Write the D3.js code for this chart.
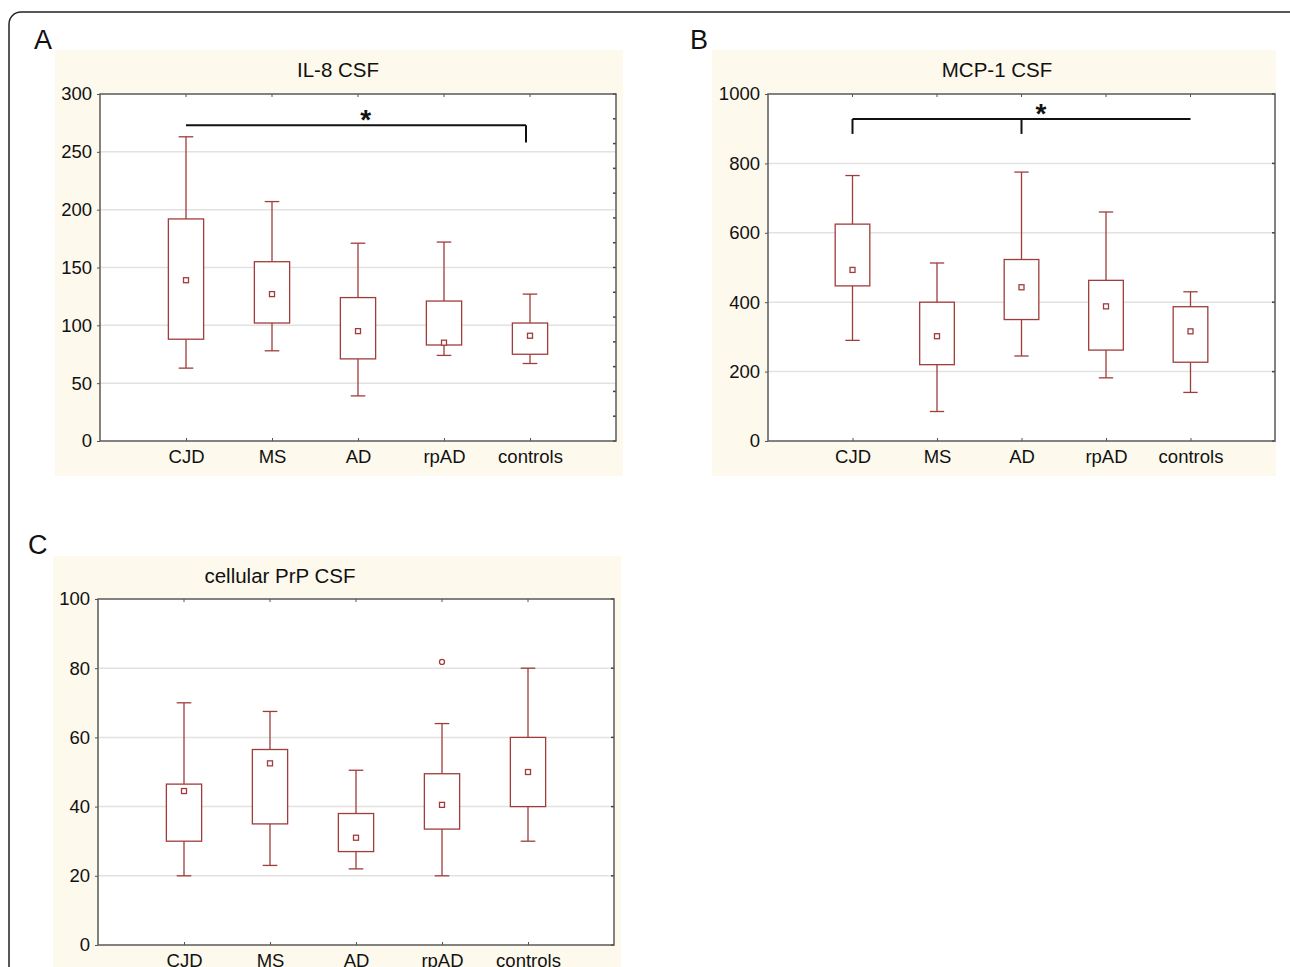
<!DOCTYPE html>
<html>
<head>
<meta charset="utf-8">
<script src="https://cdn.jsdelivr.net/npm/d3@7"></script>
<style>
  body { margin: 0; background: #fff; }
  svg { display: block; font-family: "Liberation Sans", Arial, sans-serif; }
</style>
</head>
<body>
<script>
// groups on the x axis (same for all three panels)
var groups = ["CJD", "MS", "AD", "rpAD", "controls"];

// A: IL-8 CSF
var il8Max  = [263, 207, 171, 172, 127];
var il8Q3   = [192, 155, 124, 121, 102];
var il8Mean = [139, 127, 95, 85, 91];
var il8Q1   = [88, 102, 71, 83, 75];
var il8Min  = [63, 78, 39, 74, 67];
var il8Ticks = [0, 50, 100, 150, 200, 250, 300];

// B: MCP-1 CSF
var mcpMax  = [765, 513, 775, 660, 430];
var mcpQ3   = [625, 400, 523, 463, 387];
var mcpMean = [493, 302, 443, 388, 316];
var mcpQ1   = [447, 220, 350, 262, 227];
var mcpMin  = [290, 85, 245, 182, 140];
var mcpTicks = [0, 200, 400, 600, 800, 1000];

// C: cellular PrP CSF
var prpMax  = [70, 67.5, 50.5, 64, 80];
var prpQ3   = [46.5, 56.5, 38, 49.5, 60];
var prpMean = [44.5, 52.5, 31, 40.5, 50];
var prpQ1   = [30, 35, 27, 33.5, 40];
var prpMin  = [20, 23, 22, 20, 30];
var prpOutlier = [null, null, null, 81.8, null];
var prpTicks = [0, 20, 40, 60, 80, 100];

var boxColor = "#a03c3c";

var svg = d3.select("body").append("svg")
    .attr("width", 1290)
    .attr("height", 967);

// outer rounded frame
svg.append("rect")
    .attr("x", 9).attr("y", 12)
    .attr("width", 1300).attr("height", 1000)
    .attr("rx", 12)
    .attr("fill", "none")
    .attr("stroke", "#222")
    .attr("stroke-width", 1.5);

function drawPanel(p) {
    var g = svg.append("g");

    // beige panel background
    g.append("rect")
        .attr("x", p.bg[0]).attr("y", p.bg[1])
        .attr("width", p.bg[2]).attr("height", p.bg[3])
        .attr("fill", "#fdf9ec");

    var px = p.plot[0], py = p.plot[1], pw = p.plot[2], ph = p.plot[3];

    g.append("rect")
        .attr("x", px).attr("y", py)
        .attr("width", pw).attr("height", ph)
        .attr("fill", "#fff");

    var x = d3.scalePoint().domain(groups).range([px, px + pw]).padding(1);
    var step = x.step();
    var y = d3.scaleLinear().domain(p.domain).range([py + ph, py]);

    // grid lines
    g.selectAll(".grid").data(p.ticks.slice(1, -1)).enter().append("line")
        .attr("x1", px).attr("x2", px + pw)
        .attr("y1", function(d) { return y(d); })
        .attr("y2", function(d) { return y(d); })
        .attr("stroke", "#e2e2e2")
        .attr("stroke-width", 1.5);

    // left axis labels
    var yAxis = d3.axisLeft(y).tickValues(p.ticks).tickFormat(d3.format("d"))
        .tickSize(3).tickPadding(5);
    var ya = g.append("g").attr("transform", "translate(" + px + ",0)").call(yAxis);
    ya.select(".domain").remove();
    ya.selectAll("line").attr("stroke", "#555");
    ya.selectAll("text").attr("font-size", 18.5).attr("fill", "#111");

    // bottom axis labels
    var xAxis = d3.axisBottom(x).tickSize(-3).tickPadding(9);
    var xa = g.append("g").attr("transform", "translate(0," + (py + ph) + ")").call(xAxis);
    xa.select(".domain").remove();
    xa.selectAll("line").attr("stroke", "#555");
    xa.selectAll("text").attr("font-size", 18.5).attr("fill", "#111");

    // top ticks
    g.selectAll(".ttick").data(groups).enter().append("line")
        .attr("x1", function(d) { return x(d); })
        .attr("x2", function(d) { return x(d); })
        .attr("y1", py).attr("y2", py + 3)
        .attr("stroke", "#555");

    // right ticks
    g.selectAll(".rtick").data(p.rightTicks).enter().append("line")
        .attr("x1", px + pw - 3).attr("x2", px + pw)
        .attr("y1", function(d) { return y(d); })
        .attr("y2", function(d) { return y(d); })
        .attr("stroke", "#444")
        .attr("stroke-width", 1.5);

    // frame
    g.append("rect")
        .attr("x", px).attr("y", py)
        .attr("width", pw).attr("height", ph)
        .attr("fill", "none")
        .attr("stroke", "#5a5a5a")
        .attr("stroke-width", 1.5);

    var bw = step * 0.41, cw = step * 0.17;
    var boxes = g.selectAll(".box").data(groups).enter().append("g");

    // whiskers
    boxes.append("line")
        .attr("x1", function(d) { return x(d); })
        .attr("x2", function(d) { return x(d); })
        .attr("y1", function(d, i) { return y(p.max[i]); })
        .attr("y2", function(d, i) { return y(p.q3[i]); })
        .attr("stroke", boxColor).attr("stroke-width", 1.3);
    boxes.append("line")
        .attr("x1", function(d) { return x(d); })
        .attr("x2", function(d) { return x(d); })
        .attr("y1", function(d, i) { return y(p.q1[i]); })
        .attr("y2", function(d, i) { return y(p.min[i]); })
        .attr("stroke", boxColor).attr("stroke-width", 1.3);
    // caps
    boxes.append("line")
        .attr("x1", function(d) { return x(d) - cw / 2; })
        .attr("x2", function(d) { return x(d) + cw / 2; })
        .attr("y1", function(d, i) { return y(p.max[i]); })
        .attr("y2", function(d, i) { return y(p.max[i]); })
        .attr("stroke", boxColor).attr("stroke-width", 1.3);
    boxes.append("line")
        .attr("x1", function(d) { return x(d) - cw / 2; })
        .attr("x2", function(d) { return x(d) + cw / 2; })
        .attr("y1", function(d, i) { return y(p.min[i]); })
        .attr("y2", function(d, i) { return y(p.min[i]); })
        .attr("stroke", boxColor).attr("stroke-width", 1.3);
    // box
    boxes.append("rect")
        .attr("x", function(d) { return x(d) - bw / 2; })
        .attr("y", function(d, i) { return y(p.q3[i]); })
        .attr("width", bw)
        .attr("height", function(d, i) { return y(p.q1[i]) - y(p.q3[i]); })
        .attr("fill", "#fff")
        .attr("stroke", boxColor).attr("stroke-width", 1.3);
    // mean marker
    boxes.append("rect")
        .attr("x", function(d) { return x(d) - 2.5; })
        .attr("y", function(d, i) { return y(p.mean[i]) - 2.5; })
        .attr("width", 5).attr("height", 5)
        .attr("fill", "#fff")
        .attr("stroke", boxColor).attr("stroke-width", 1.3);

    // outliers
    if (p.outlier) {
        g.selectAll(".out").data(groups.filter(function(d, i) { return p.outlier[i] != null; }))
            .enter().append("circle")
            .attr("cx", function(d) { return x(d); })
            .attr("cy", function(d) { return y(p.outlier[groups.indexOf(d)]); })
            .attr("r", 2.5)
            .attr("fill", "#fff")
            .attr("stroke", boxColor).attr("stroke-width", 1.3);
    }

    // significance bracket
    if (p.bracket) {
        var b = p.bracket;
        g.append("line")
            .attr("x1", x(b.from)).attr("x2", x(b.to) + b.endShift)
            .attr("y1", y(b.y)).attr("y2", y(b.y))
            .attr("stroke", "#111").attr("stroke-width", 2);
        b.drops.forEach(function(dname) {
            var dx = x(dname) + (dname === b.to ? b.endShift : 0);
            g.append("line")
                .attr("x1", dx).attr("x2", dx)
                .attr("y1", y(b.y)).attr("y2", y(b.dropTo))
                .attr("stroke", "#111").attr("stroke-width", 2);
        });
        g.append("text")
            .attr("x", x(groups[0]) + b.starAt * step)
            .attr("y", y(b.y) + 4)
            .attr("text-anchor", "middle")
            .attr("font-size", 28)
            .attr("font-weight", "bold")
            .attr("fill", "#111")
            .text("*");
    }

    // title
    g.append("text")
        .attr("x", p.titleX).attr("y", p.bg[1] + 27)
        .attr("text-anchor", "middle")
        .attr("font-size", 20.5)
        .attr("fill", "#111")
        .text(p.title);

    // panel letter
    svg.append("text")
        .attr("x", p.letterPos[0]).attr("y", p.letterPos[1])
        .attr("font-family", "'Liberation Sans Narrow', 'Liberation Sans', sans-serif")
        .attr("font-size", 27)
        .attr("fill", "#111")
        .text(p.letter);
}

drawPanel({
    letter: "A", letterPos: [34, 49],
    title: "IL-8 CSF", titleX: 338,
    bg: [55, 50, 568, 426], plot: [100, 94, 516, 347],
    domain: [0, 300], ticks: il8Ticks,
    rightTicks: d3.range(0, 300.01, 300 / 14),
    max: il8Max, q3: il8Q3, mean: il8Mean, q1: il8Q1, min: il8Min,
    bracket: { from: "CJD", to: "controls", endShift: -4, y: 273, dropTo: 258, drops: ["controls"], starAt: 2.09 }
});

drawPanel({
    letter: "B", letterPos: [690, 49],
    title: "MCP-1 CSF", titleX: 997,
    bg: [712, 50, 564, 426], plot: [768, 94, 507, 347],
    domain: [0, 1000], ticks: mcpTicks,
    rightTicks: mcpTicks,
    max: mcpMax, q3: mcpQ3, mean: mcpMean, q1: mcpQ1, min: mcpMin,
    bracket: { from: "CJD", to: "controls", endShift: 0, y: 928, dropTo: 885, drops: ["CJD", "AD"], starAt: 2.23 }
});

drawPanel({
    letter: "C", letterPos: [28, 554],
    title: "cellular PrP CSF", titleX: 280,
    bg: [53, 556, 568, 420], plot: [98, 599, 516, 346],
    domain: [0, 100], ticks: prpTicks,
    rightTicks: prpTicks,
    max: prpMax, q3: prpQ3, mean: prpMean, q1: prpQ1, min: prpMin,
    outlier: prpOutlier
});
</script>
</body>
</html>
